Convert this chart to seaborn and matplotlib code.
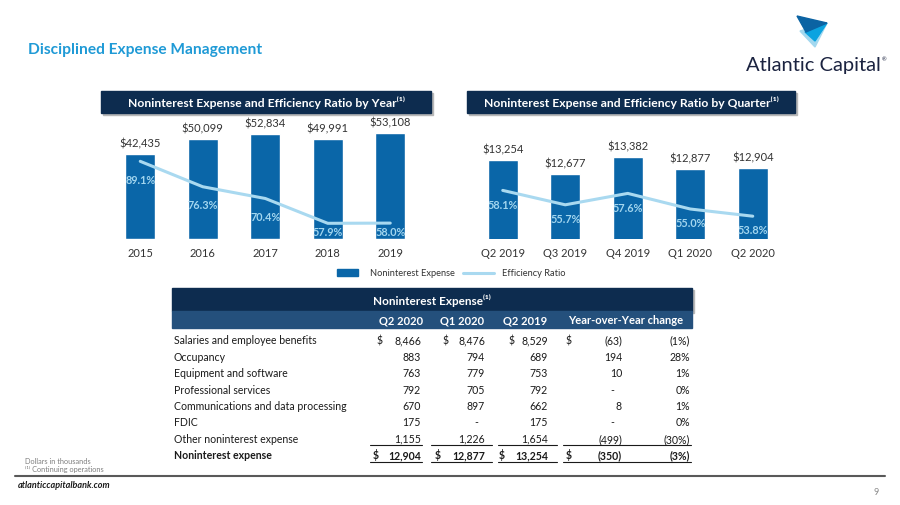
import matplotlib
import numpy as np
import pandas as pd
import matplotlib.pyplot as plt
import seaborn as sns
from matplotlib.patches import Rectangle, Polygon

matplotlib.use('Agg')

# ---- data ----
years = ['2015', '2016', '2017', '2018', '2019']
year_expense = [42435, 50099, 52834, 49991, 53108]
year_ratio = [89.1, 76.3, 70.4, 57.9, 58.0]

quarters = ['Q2 2019', 'Q3 2019', 'Q4 2019', 'Q1 2020', 'Q2 2020']
qtr_expense = [13254, 12677, 13382, 12877, 12904]
qtr_ratio = [58.1, 55.7, 57.6, 55.0, 53.8]

table_cols = ['Q2 2020', 'Q1 2020', 'Q2 2019', 'Year-over-Year change']
table_rows = ['Salaries and employee benefits', 'Occupancy', 'Equipment and software',
              'Professional services', 'Communications and data processing', 'FDIC',
              'Other noninterest expense', 'Noninterest expense']
col_q2_2020 = ['8,466', '883', '763', '792', '670', '175', '1,155', '12,904']
col_q1_2020 = ['8,476', '794', '779', '705', '897', '-', '1,226', '12,877']
col_q2_2019 = ['8,529', '689', '753', '792', '662', '175', '1,654', '13,254']
col_yoy = ['(63)', '194', '10', '-', '8', '-', '(499)', '(350)']
col_yoy_pct = ['(1%)', '28%', '1%', '0%', '1%', '0%', '(30%)', '(3%)']

BAR = '#0a66a8'
LINE = '#a9d9f0'
PCT = '#a3d6ef'
NAVY = '#0d2c4f'
MID = '#24507c'
TITLE = '#1f9ad6'
INK = '#1a1a1a'

sns.set_style('white')
plt.rcParams['font.family'] = ['Lato', 'DejaVu Sans']

W, H = 900, 506
fig = plt.figure(figsize=(9, 5.06), dpi=100)


def fx(x):
    return x / W


def fy(y):
    return 1 - y / H


def ftext(x, y, s, **kw):
    fig.text(fx(x), fy(y), s, **kw)


def box(x0, y0, x1, y1, color, shadow=True):
    if shadow:
        fig.patches.append(Rectangle((fx(x0 + 2), fy(y1 + 2)), fx(x1 - x0), (y1 - y0) / H,
                                     transform=fig.transFigure, color='#b8b8b8', zorder=1))
    fig.patches.append(Rectangle((fx(x0), fy(y1)), fx(x1 - x0), (y1 - y0) / H,
                                 transform=fig.transFigure, color=color, zorder=2))


# ---- title and logo ----
ftext(28, 50, 'Disciplined Expense Management', color=TITLE, fontsize=11.2,
      fontweight='bold', va='center')
for pts, c in [([(800, 32), (827, 24), (815, 48)], '#a3d8ef'),
               ([(805, 33), (827, 24), (815, 42)], '#0aa3e0'),
               ([(797, 17), (827, 24), (806, 33)], '#0b63a3')]:
    fig.patches.append(Polygon([(fx(a), fy(b)) for a, b in pts], closed=True,
                               transform=fig.transFigure, color=c, zorder=3))
ftext(746, 66, 'Atlantic Capital', color='#1b2340', fontsize=14.5, va='center')
ftext(882, 60, '®', color='#1b2340', fontsize=4, va='center')

# ---- chart headers ----
box(101, 92, 431, 114, NAVY)
ftext(266, 103, 'Noninterest Expense and Efficiency Ratio by Year\u207d\u00b9\u207e',
      color='white', fontsize=8.7, fontweight='bold', ha='center', va='center', zorder=5)
box(467, 92, 795, 114, NAVY)
ftext(631, 103, 'Noninterest Expense and Efficiency Ratio by Quarter\u207d\u00b9\u207e',
      color='white', fontsize=8.7, fontweight='bold', ha='center', va='center', zorder=5)


def combo(left, cats, expense, ratio, ylim_bar, ylim_line, pct_pos):
    ax = fig.add_axes([fx(left), fy(240), fx(5 * 62.5), 120 / H])
    df = pd.DataFrame({'cat': cats, 'exp': expense})
    sns.barplot(data=df, x='cat', y='exp', color=BAR, saturation=1, width=0.48, ax=ax)
    ax.set_ylim(*ylim_bar)
    ax.set_xlim(-0.5, len(cats) - 0.5)
    for i, v in enumerate(expense):
        ax.annotate(f'${v:,}', (i, v), xytext=(0, 4), textcoords='offset points',
                    ha='center', va='bottom', fontsize=8, color='#333333')
    ax.set_xlabel('')
    ax.set_ylabel('')
    ax.set_yticks([])
    ax.tick_params(axis='x', length=0, pad=6, labelsize=8, labelcolor='#333333')
    sns.despine(ax=ax, left=True, bottom=True)
    ax2 = ax.twinx()
    sns.lineplot(x=np.arange(len(cats)), y=ratio, color=LINE, linewidth=2.2, ax=ax2)
    ax2.set_ylim(*ylim_line)
    ax2.set_yticks([])
    for i, r in enumerate(ratio):
        ax2.text(i, pct_pos(r), f'{r:.1f}%', ha='center', va='center', fontsize=7.8,
                 fontweight='bold', color=PCT)
    sns.despine(ax=ax2, left=True, bottom=True, right=True)
    return ax


combo(109, years, year_expense, year_ratio, (0, 60120), (50, 110.4),
      lambda r: max(r - 9, 54))
combo(471.5, quarters, qtr_expense, qtr_ratio, (10000, 14940), (50, 70),
      lambda r: max(r - 2.3, 51.6))

# ---- legend ----
fig.patches.append(Rectangle((fx(337), fy(277)), fx(21), 7 / H, transform=fig.transFigure,
                             color=BAR))
ftext(370, 273.5, 'Noninterest Expense', fontsize=6.7, color='#333333', va='center')
fig.lines.append(plt.Line2D([fx(463), fx(494)], [fy(273.5), fy(273.5)],
                            transform=fig.transFigure, color=LINE, linewidth=2.2))
ftext(502, 273.5, 'Efficiency Ratio', fontsize=6.7, color='#333333', va='center')

# ---- table ----
box(172, 289, 692, 312, NAVY)
box(172, 312, 692, 329, MID, shadow=False)
ftext(432, 300.5, 'Noninterest Expense\u207d\u00b9\u207e', color='white', fontsize=8.5,
      fontweight='bold', ha='center', va='center', zorder=5)
for c, x in zip(table_cols, [401, 462, 525, 626]):
    ftext(x, 321, c, color='white', fontsize=8, fontweight='bold', ha='center',
          va='center', zorder=5)

FS = 7.6


def cell(x, y, s, **kw):
    # baseline alignment keeps '$' and digits on the same line
    ftext(x, y + 3.5, s, fontsize=FS, color=INK, va='baseline', **kw)


row_y = [341 + 16.4 * i for i in range(len(table_rows))]
last = len(table_rows) - 1
cols = [(col_q2_2020, 421, 377, 373), (col_q1_2020, 485, 443, 435),
        (col_q2_2019, 548, 509, 499)]
for i, (label, y) in enumerate(zip(table_rows, row_y)):
    wt = 'bold' if i == last else 'normal'
    cell(174, y, label, fontweight=wt)
    for vals, xr, xd, xdt in cols:
        v = vals[i]
        if v == '-':
            cell(xr - 9, y, v, ha='center')
        else:
            cell(xr, y, v, ha='right', fontweight=wt)
        if i == 0:
            cell(xd, y, '$')
        elif i == last:
            cell(xdt, y, '$', fontweight=wt)
    v = col_yoy[i]
    if v == '-':
        cell(612, y, v, ha='center')
    else:
        cell(622, y, v, ha='right', fontweight=wt)
    if i in (0, last):
        cell(566, y, '$', fontweight=wt)
    cell(690, y, col_yoy_pct[i], ha='right', fontweight=wt)

for yl in (446, 463):
    for x0, x1 in [(370, 422), (431, 492), (498, 557), (563, 691)]:
        fig.lines.append(plt.Line2D([fx(x0), fx(x1)], [fy(yl), fy(yl)],
                                    transform=fig.transFigure, color=INK, linewidth=0.8))

# ---- footer ----
ftext(25, 462, 'Dollars in thousands', fontsize=5.3, color='#7f7f7f', va='center')
ftext(25, 470, '\u207d\u00b9\u207e Continuing operations', fontsize=5.3, color='#7f7f7f',
      va='center')
fig.lines.append(plt.Line2D([fx(15), fx(885)], [fy(476.5), fy(476.5)],
                            transform=fig.transFigure, color='#595959', linewidth=1.5))
ftext(18, 486, 'atlanticcapitalbank.com', fontsize=6.5, color='#1a1a1a', va='center',
      fontstyle='italic', fontweight='bold')
ftext(873, 493, '9', fontsize=6.5, color='#8c8c8c', va='center')

fig.savefig('out.png', dpi=100)
